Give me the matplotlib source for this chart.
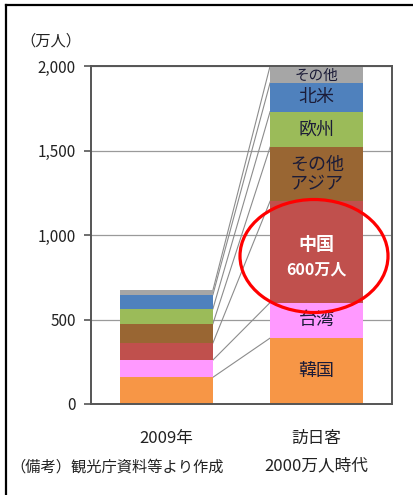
import matplotlib.pyplot as plt
import numpy as np
from matplotlib.patches import Ellipse

plt.rcParams['font.family'] = ['Noto Sans CJK JP', 'DejaVu Sans']

# data (万人)
regions = ['韓国', '台湾', '中国', 'その他\nアジア', '欧州', '北米', 'その他']
v2009 = [158, 102, 101, 114, 88, 84, 26]
v2000 = [390, 210, 600, 320, 210, 170, 100]
colors = ['#F79646', '#FF99FF', '#C0504D', '#996633', '#9BBB59', '#4F81BD', '#A6A6A6']
categories = ['2009年', '訪日客\n2000万人時代']
yticks = [0, 500, 1000, 1500, 2000]

W, H = 414, 495
fig = plt.figure(figsize=(W / 100, H / 100), dpi=100)
ax = fig.add_axes([91 / W, 1 - 404 / H, 301 / W, 338 / H])

x = np.arange(len(categories))
bw = 0.62
b1 = np.concatenate([[0], np.cumsum(v2009)[:-1]])
b2 = np.concatenate([[0], np.cumsum(v2000)[:-1]])
for i in range(len(regions)):
    ax.bar(x[0], v2009[i], bw, bottom=b1[i], color=colors[i], zorder=3)
    ax.bar(x[1], v2000[i], bw, bottom=b2[i], color=colors[i], zorder=3)

# series lines between the two bars
t1 = np.cumsum(v2009)
t2 = np.cumsum(v2000)
for a, b in zip(t1, t2):
    ax.plot([x[0] + bw / 2, x[1] - bw / 2], [a, b], color='#8c8c8c', lw=0.8, zorder=2)

# labels inside the 2000万人 bar
txt = '#1c1c38'
for i, name in enumerate(regions):
    mid = b2[i] + v2000[i] / 2
    if name == '中国':
        ax.text(x[1], mid + 45, '中国', ha='center', va='center', color='white',
                fontsize=13, fontweight='bold', zorder=4)
        ax.text(x[1], mid - 105, '%d万人' % v2000[i], ha='center', va='center',
                color='white', fontsize=11.5, fontweight='bold', zorder=4)
    elif name == 'その他':
        ax.text(x[1], mid - 8, name, ha='center', va='center', color=txt,
                fontsize=10.5, zorder=4)
    else:
        ax.text(x[1], mid, name, ha='center', va='center', color=txt,
                fontsize=13, linespacing=1.1, zorder=4)

ax.set_xlim(-0.5, 1.5)
ax.set_ylim(0, 2000)
ax.set_yticks(yticks, ['{:,}'.format(v) for v in yticks])
ax.set_xticks(x, categories, linespacing=1.8)
ax.tick_params(axis='x', length=0, pad=19, labelsize=12, colors='#222222')
ax.tick_params(axis='y', length=5, width=1.2, color='#555555', pad=6,
               labelsize=11, labelcolor='#222222')
ax.yaxis.grid(True, color='#9a9a9a', lw=0.9, zorder=0)
for s in ax.spines.values():
    s.set_color('#555555')
    s.set_linewidth(1.4)
    s.set_zorder(5)

fig.text(20 / W, 1 - 41 / H, '（万人）', ha='left', va='center', fontsize=11,
         color='#222222')
fig.text(10 / W, 1 - 467 / H, '（備考）観光庁資料等より作成', ha='left', va='center',
         fontsize=11, color='#222222')

# red emphasis ellipse
fig.add_artist(Ellipse((314 / W, 1 - 256 / H), 148 / W, 113 / H,
                       transform=fig.transFigure, fill=False, ec='#FF0000', lw=2.3,
                       zorder=10))

# outer frame (left and top visible)
fig.add_artist(plt.Line2D([6 / W, 6 / W], [0, 1 - 5 / H], transform=fig.transFigure,
                          color='black', lw=1.6))
fig.add_artist(plt.Line2D([6 / W, 1], [1 - 5 / H, 1 - 5 / H], transform=fig.transFigure,
                          color='black', lw=1.6))

fig.savefig('out.png', dpi=100)
